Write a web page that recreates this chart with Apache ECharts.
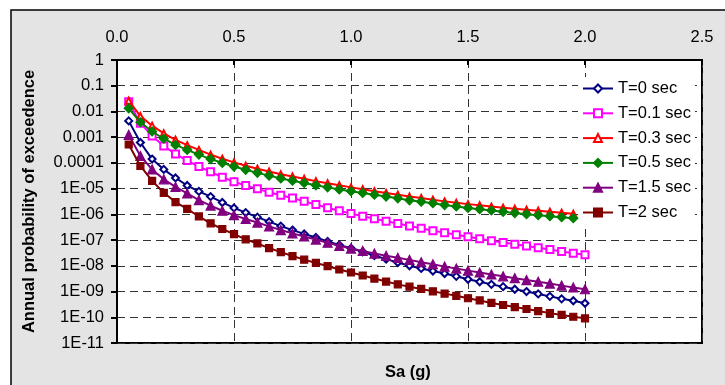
<!DOCTYPE html>
<html>
<head>
<meta charset="utf-8">
<script src="https://cdn.jsdelivr.net/npm/echarts@6/dist/echarts.min.js"></script>
<style>
html,body{margin:0;padding:0;background:#fff;}
#c{width:725px;height:385px;}
</style>
</head>
<body>
<div id="c"></div>
<script>
const sa = [0.05,0.10,0.15,0.20,0.25,0.30,0.35,0.40,0.45,0.50,0.55,0.60,0.65,0.70,0.75,0.80,0.85,0.90,0.95,1.00,
            1.05,1.10,1.15,1.20,1.25,1.30,1.35,1.40,1.45,1.50,1.55,1.60,1.65,1.70,1.75,1.80,1.85,1.90,1.95,2.00];

const seriesNames = ['T=0 sec','T=0.1 sec','T=0.3 sec','T=0.5 sec','T=1.5 sec','T=2 sec'];

const t0 = [4.3e-3,6.2e-4,1.41e-4,5.6e-5,2.6e-5,1.32e-5,7.8e-6,4.9e-6,2.9e-6,1.78e-6,1.17e-6,7.8e-7,5.2e-7,3.5e-7,2.45e-7,1.74e-7,1.26e-7,8.9e-8,6.5e-8,4.8e-8,
            3.5e-8,2.5e-8,1.82e-8,1.35e-8,1.0e-8,7.9e-9,6.3e-9,5.0e-9,3.9e-9,3.0e-9,2.4e-9,1.9e-9,1.55e-9,1.23e-9,1.0e-9,8.1e-10,6.5e-10,5.2e-10,4.4e-10,3.5e-10];
const t01 = [2.4e-2,3.5e-3,1.12e-3,4.5e-4,2.24e-4,1.23e-4,7.2e-5,4.5e-5,2.8e-5,1.86e-5,1.32e-5,9.8e-6,7.2e-6,5.5e-6,4.3e-6,3.2e-6,2.4e-6,1.82e-6,1.38e-6,1.07e-6,
            8.5e-7,6.8e-7,5.4e-7,4.4e-7,3.5e-7,2.9e-7,2.3e-7,1.95e-7,1.62e-7,1.35e-7,1.12e-7,9.5e-8,8.1e-8,6.9e-8,5.9e-8,5.0e-8,4.3e-8,3.6e-8,3.1e-8,2.7e-8];
const t03 = [2.63e-2,6.6e-3,2.8e-3,1.41e-3,7.9e-4,4.9e-4,3.2e-4,2.1e-4,1.45e-4,1.05e-4,7.8e-5,5.9e-5,4.6e-5,3.6e-5,2.95e-5,2.4e-5,1.95e-5,1.62e-5,1.35e-5,1.12e-5,
            9.5e-6,7.9e-6,6.8e-6,5.8e-6,4.9e-6,4.3e-6,3.7e-6,3.2e-6,2.8e-6,2.5e-6,2.24e-6,2.0e-6,1.82e-6,1.66e-6,1.51e-6,1.38e-6,1.26e-6,1.15e-6,1.05e-6];
const t05 = [1.32e-2,3.8e-3,1.66e-3,8.7e-4,5.0e-4,3.2e-4,2.1e-4,1.41e-4,1.0e-4,7.2e-5,5.4e-5,4.1e-5,3.2e-5,2.5e-5,2.04e-5,1.66e-5,1.35e-5,1.12e-5,9.3e-6,7.9e-6,
            6.8e-6,5.8e-6,4.9e-6,4.2e-6,3.5e-6,3.1e-6,2.7e-6,2.3e-6,2.04e-6,1.78e-6,1.58e-6,1.41e-6,1.26e-6,1.12e-6,1.02e-6,9.3e-7,8.5e-7,7.8e-7,7.1e-7];
const t15 = [1.23e-3,1.86e-4,5.6e-5,2.3e-5,1.17e-5,6.5e-6,3.6e-6,2.2e-6,1.38e-6,9.3e-7,6.6e-7,4.8e-7,3.4e-7,2.45e-7,1.82e-7,1.38e-7,1.05e-7,7.9e-8,6.0e-8,4.7e-8,
            3.8e-8,3.0e-8,2.45e-8,2.04e-8,1.7e-8,1.38e-8,1.15e-8,9.3e-9,7.8e-9,6.5e-9,5.5e-9,4.6e-9,3.9e-9,3.3e-9,2.8e-9,2.4e-9,2.04e-9,1.7e-9,1.45e-9,1.23e-9];
const t2 = [5.2e-4,7.6e-5,2.0e-5,6.9e-6,3.0e-6,1.62e-6,8.3e-7,4.5e-7,2.7e-7,1.7e-7,1.07e-7,7.4e-8,4.9e-8,3.4e-8,2.4e-8,1.74e-8,1.29e-8,9.8e-9,7.2e-9,5.5e-9,
            4.2e-9,3.2e-9,2.45e-9,1.9e-9,1.55e-9,1.26e-9,1.02e-9,8.3e-10,6.8e-10,5.5e-10,4.5e-10,3.6e-10,3.0e-10,2.5e-10,2.1e-10,1.74e-10,1.45e-10,1.23e-10,1.05e-10,9.1e-11];

const xTickLabels = ['0.0','0.5','1.0','1.5','2.0','2.5'];
const yTickLabels = ['1','0.1','0.01','0.001','0.0001','1E-05','1E-06','1E-07','1E-08','1E-09','1E-10','1E-11'];

const FONT = "'Liberation Sans', Arial, sans-serif";
const FS = 16.5;

function pairs(ys){ return ys.map((v,i)=>[sa[i], v]); }

const styles = [
  {color:'#000080', symbol:'emptyDiamond', size:7},
  {color:'#ff00ff', symbol:'emptyRect', size:7},
  {color:'#ff0000', symbol:'emptyTriangle', size:6},
  {color:'#008000', symbol:'diamond', size:9},
  {color:'#800080', symbol:'triangle', size:9},
  {color:'#800000', symbol:'rect', size:7}
];
const allData = [t0,t01,t03,t05,t15,t2];

const chart = echarts.init(document.getElementById('c'), null, {renderer:'canvas'});
chart.setOption({
  animation:false,
  backgroundColor:'#fff',
  textStyle:{fontFamily:FONT},
  graphic:[
    {type:'rect', z:-10, silent:true, shape:{x:11, y:10, width:720, height:380},
     style:{fill:'#e4e4e4', stroke:'#000', lineWidth:1.5}},
    {type:'text', z:10, left:385, top:364, style:{text:'Sa (g)', font:'bold '+FS+'px '+FONT, fill:'#000'}}
  ],
  grid:{left:117, right:23, top:60, bottom:42, show:true, backgroundColor:'#fff', borderColor:'#000', borderWidth:2},
  legend:{
    orient:'vertical', left:578, top:77, itemWidth:30, itemHeight:10, itemGap:7.8,
    backgroundColor:'#fff', padding:[3,4,3,4], borderWidth:0,
    textStyle:{fontFamily:FONT, fontSize:FS, color:'#000', lineHeight:14},
    data:seriesNames
  },
  xAxis:{
    type:'value', position:'top', min:0, max:2.5, interval:0.5,
    axisLine:{show:true, lineStyle:{color:'#000', width:2}},
    axisTick:{show:true, inside:true, length:5, lineStyle:{color:'#000', width:2}},
    axisLabel:{margin:14, fontFamily:FONT, fontSize:FS, color:'#000',
      formatter:(v)=>xTickLabels[Math.round(v/0.5)]},
    splitLine:{show:true, lineStyle:{color:'#333', type:[8,5], width:1}}
  },
  yAxis:{
    type:'log', logBase:10, min:1e-11, max:1, interval:1, splitNumber:11,
    name:'Annual probability of exceedence', nameLocation:'middle', nameGap:79,
    nameTextStyle:{fontFamily:FONT, fontSize:FS, fontWeight:'bold', color:'#000'},
    axisLine:{show:true, lineStyle:{color:'#000', width:2}},
    axisTick:{show:true, inside:false, length:6, lineStyle:{color:'#000', width:2}},
    axisLabel:{margin:13, fontFamily:FONT, fontSize:FS, color:'#000',
      formatter:(v)=>yTickLabels[Math.round(-Math.log10(v))]},
    splitLine:{show:true, lineStyle:{color:'#333', type:[8,5], width:1}}
  },
  series: seriesNames.map((n,i)=>({
    name:n, type:'line', data:pairs(allData[i]),
    symbol:styles[i].symbol, symbolSize:styles[i].size, showAllSymbol:true,
    lineStyle:{color:styles[i].color, width:2},
    itemStyle:{color:styles[i].color, borderColor:styles[i].color, borderWidth:1.2},
    z:2+i
  }))
});
</script>
</body>
</html>
